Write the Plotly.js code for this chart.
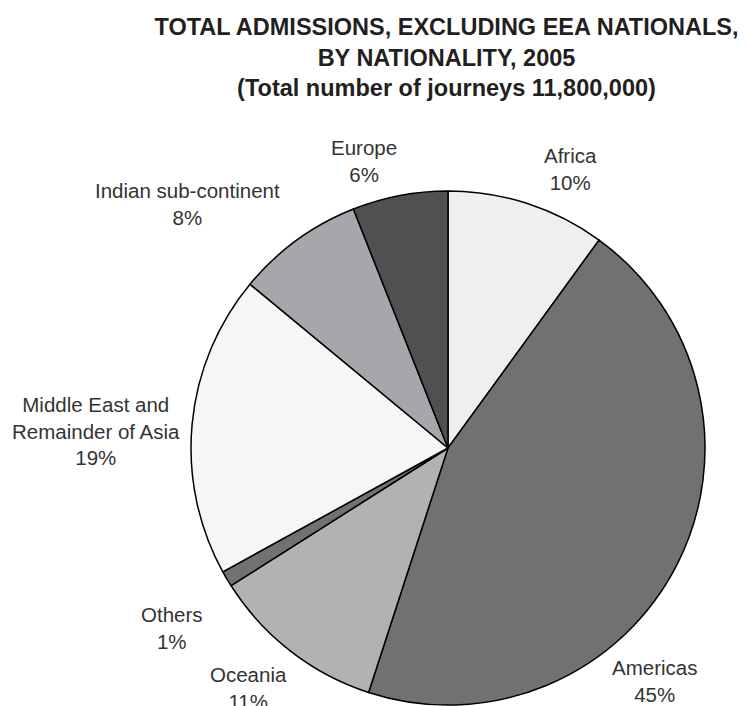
<!DOCTYPE html>
<html>
<head>
<meta charset="utf-8">
<script src="https://cdn.plot.ly/plotly-3.0.1.min.js"></script>
<style>
  html, body { margin: 0; padding: 0; background: #ffffff; }
  #chart { width: 747px; height: 706px; }
</style>
</head>
<body>
<div id="chart"></div>
<script>
// ---- Data ----
var categories = ["Africa", "Americas", "Oceania", "Others", "Middle East and Remainder of Asia", "Indian sub-continent", "Europe"];
var displayNames = ["Africa", "Americas", "Oceania", "Others", "Middle East and<br>Remainder of Asia", "Indian sub-continent", "Europe"];
var shares = [10, 45, 11, 1, 19, 8, 6];
var titleLines = ["TOTAL ADMISSIONS, EXCLUDING EEA NATIONALS,", "BY NATIONALITY, 2005", "(Total number of journeys 11,800,000)"];

// ---- Styles / placement ----
var sliceColors = ["#eef0ef", "#707173", "#b1b2b4", "#707173", "#f6f6f6", "#a5a7aa", "#505052"];
// label centres in pixels (x, y) within the 747x706 page
var labelPos = [[570, 169], [654, 681], [248, 688], [172, 628], [96, 431], [187, 204], [364, 161]];

var W = 747, H = 706;
var FONT = "Liberation Sans, Arial, Helvetica, sans-serif";

var trace = {
  type: "pie",
  labels: categories,
  values: shares,
  sort: false,
  direction: "clockwise",
  rotation: 0,
  textinfo: "none",
  hoverinfo: "label+percent",
  marker: { colors: sliceColors, line: { color: "#000000", width: 1.5 } },
  domain: { x: [191 / W, 705 / W], y: [0, 516 / H] },
  showlegend: false
};

var annotations = categories.map(function (c, i) {
  return {
    xref: "paper", yref: "paper",
    x: labelPos[i][0] / W,
    y: 1 - labelPos[i][1] / H,
    xanchor: "center", yanchor: "middle",
    text: displayNames[i] + "<br>" + shares[i] + "%",
    showarrow: false,
    align: "center",
    font: { family: FONT, size: 20.5, color: "#333333" }
  };
});

var layout = {
  width: W, height: H,
  margin: { l: 0, r: 0, t: 0, b: 0 },
  paper_bgcolor: "#ffffff",
  plot_bgcolor: "#ffffff",
  title: {
    text: "<b>" + titleLines.join("<br>") + "</b>",
    x: 446.5 / W, xanchor: "center", xref: "paper",
    y: 1 - 35 / H, yanchor: "top", yref: "container",
    font: { family: FONT, size: 23.5, color: "#231f20" }
  },
  annotations: annotations
};

Plotly.newPlot("chart", [trace], layout, { displayModeBar: false, staticPlot: true });
</script>
</body>
</html>
